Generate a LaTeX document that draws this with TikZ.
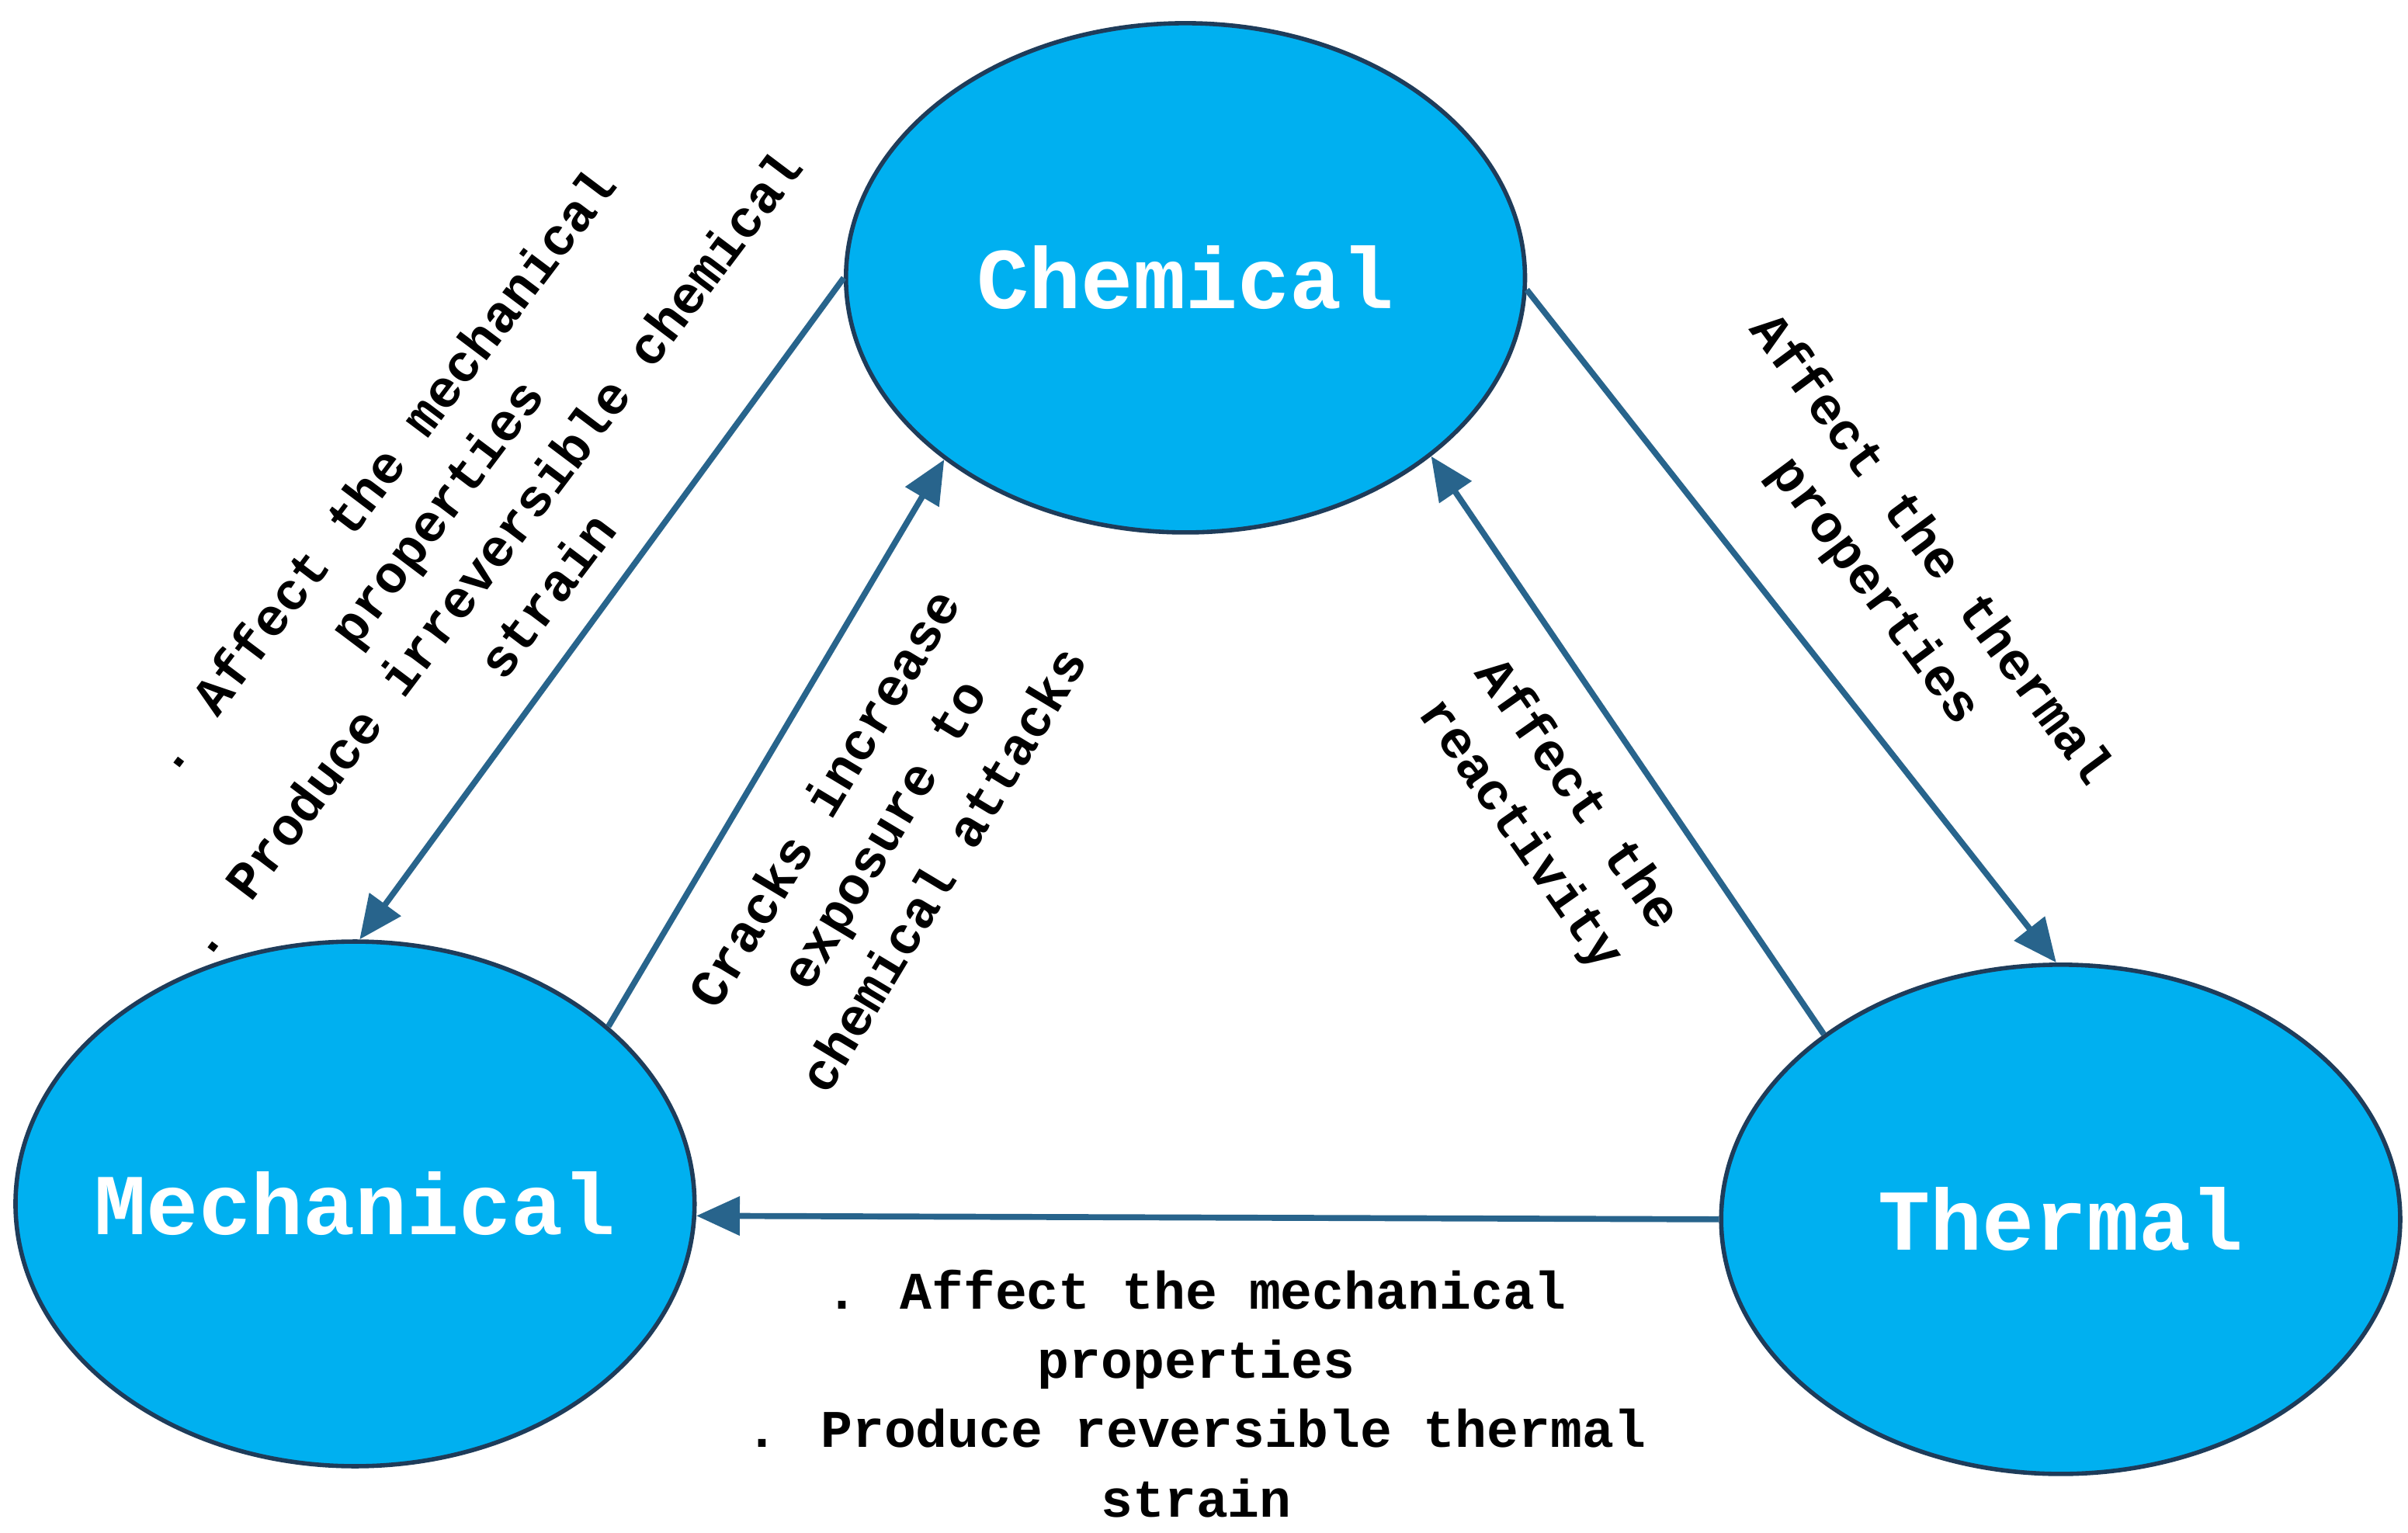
\documentclass[tikz,border=0pt]{standalone}
\usepackage{fontspec}
\setmainfont{Liberation Mono}
\usetikzlibrary{arrows.meta,shapes.geometric}
\definecolor{fillb}{RGB}{0,176,240}
\definecolor{edgeb}{RGB}{30,60,90}
\definecolor{arr}{RGB}{40,100,140}
\begin{document}
\begin{tikzpicture}[x=0.02cm,y=-0.02cm,
  blob/.style={ellipse,draw=edgeb,line width=1.6pt,fill=fillb,inner sep=0pt},
  ntext/.style={text=white,font=\fontsize{32}{36}\selectfont\bfseries,inner sep=0pt},
  link/.style={draw=arr,line width=2.2pt,-{Triangle[length=16pt,width=14pt]}},
  lab/.style={font=\fontsize{19.5}{25.5}\selectfont\bfseries,align=center,inner sep=0pt}]
\useasboundingbox[fill=white] (0,0) rectangle (1560,993);
\node[blob,minimum width=8.8cm,minimum height=6.6cm] (chem) at (768,180) {};
\node[ntext] (chemt) at (chem.center) {Chemical};
\node[blob,minimum width=8.8cm,minimum height=6.8cm] (mech) at (230,780) {};
\node[ntext] (mecht) at (mech.center) {Mechanical};
\node[blob,minimum width=8.8cm,minimum height=6.6cm] (therm) at (1335,790) {};
\node[ntext] (thermt) at (therm.center) {Thermal};
\draw[link] (chem.180) -- (mech.89);
\draw[link] (mech.35) -- (chem.217);
\draw[link] (chem.358) -- (therm.91);
\draw[link] (therm.142) -- (chem.324);
\draw[link] (therm.180) -- (mech.358);
\node[lab,rotate=53] (l1) at (300,345) {. Affect the mechanical\\properties\\. Produce irreversible chemical\\strain};
\node[lab,rotate=59] (l2) at (572,540) {Cracks increase\\exposure to\\chemical attacks};
\node[lab,rotate=-55] (l3) at (1003,528) {Affect the\\reactivity};
\node[lab,rotate=-53.5] (l4) at (1232,370) {Affect the thermal\\properties};
\node[lab] (l5) at (775,903) {. Affect the mechanical\\properties\\. Produce reversible thermal\\strain};
\end{tikzpicture}
\end{document}
